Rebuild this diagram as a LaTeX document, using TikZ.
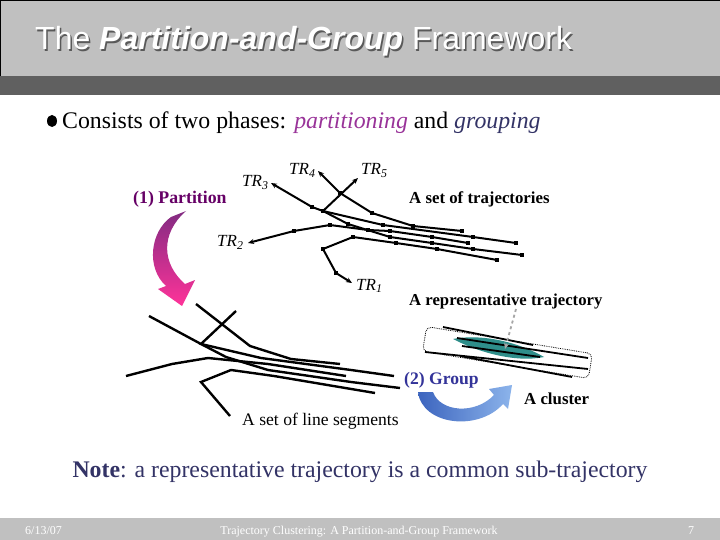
\documentclass[tikz,border=0pt]{standalone}
\usepackage{fontspec}
\setmainfont{Liberation Serif}
\newfontfamily\arialf{Liberation Sans}
\usetikzlibrary{arrows.meta}
\newcommand\fsz[1]{\fontsize{#1}{#1}\selectfont}
\definecolor{bandlight}{HTML}{C0C0C0}
\definecolor{banddark}{HTML}{606060}
\definecolor{purp}{HTML}{993399}
\definecolor{darkpurp}{HTML}{660066}
\definecolor{navy}{HTML}{333366}
\definecolor{grpblue}{HTML}{333399}
\definecolor{tealc}{HTML}{2E8E8A}
\tikzset{
  traj/.style={line width=2pt, line join=round},
  seg/.style={line width=2.4pt, line join=miter},
  tarrow/.style={-{Stealth[length=6pt,width=5pt]}},
  lbl/.style={anchor=base west, inner sep=0pt},
  clline/.style={line width=1.8pt}
}
\newcommand\sq[1]{\fill #1 ++(-2,-2) rectangle ++(4,4);}
\begin{document}
\begin{tikzpicture}[x=1pt,y=-1pt]
\useasboundingbox (0,0) rectangle (720,540);
\fill[white] (0,0) rectangle (720,540);
% header
\fill[bandlight] (0,0) rectangle (720,76);
\draw[line width=1pt] (0.5,76) -- (0.5,0.5) -- (720,0.5);
\fill[banddark] (0,76) rectangle (720,95);
\node[lbl, text=gray!70!black] (titleshadow) at (36.5,51.5) {\arialf\fsz{32}The \textbf{\textit{Partition-and-Group}} Framework};
\node[lbl, text=white] (title) at (35,50) {\arialf\fsz{32}The \textbf{\textit{Partition-and-Group}} Framework};
% bullet
\fill (52,121) ellipse (5 and 6);
\node[lbl] (bullet) at (62,129) {\fsz{23.8}Consists of two phases: \textcolor{purp}{\textit{partitioning}} and \textcolor{navy}{\textit{grouping}}};
% partition label
\node[lbl, text=darkpurp] (part) at (133,204) {\fsz{17.8}\textbf{(1) Partition}};
% pink arrow
\shade[top color=purp!85!black, bottom color={rgb,255:red,255;green,51;blue,153}]
  (186,211) -- (171,217) .. controls (150,232) and (146,268) .. (166,286)
  -- (158,289) -- (182,306) -- (195,280) -- (185,284)
  .. controls (162,264) and (160,234) .. (186,211) -- cycle;
% trajectories
\draw[traj,tarrow] (462,231) -- (413,226) -- (372,213) -- (340,193) -- (318,171);
\draw[traj,tarrow] (516,243) -- (473,237) -- (383,225) -- (323,211) -- (312,207) -- (271,183);
\draw[traj,tarrow] (522,255) -- (473,249) -- (432,243) -- (390,237) -- (348,224) -- (323,211) -- (358,178);
\draw[traj,tarrow] (468,243) -- (432,237) -- (390,231) -- (368,230) -- (330,225) -- (294,231) -- (248,243);
\draw[traj,tarrow] (497,260) -- (437,249) -- (396,243) -- (353,237) -- (323,249) -- (336,273) -- (352,283);
\foreach \p in {(462,231),(413,226),(372,213),(340,193),
  (516,243),(473,237),(383,225),(323,211),(312,207),
  (522,255),(473,249),(432,243),(390,237),(348,224),
  (468,243),(432,237),(390,231),(368,230),(330,225),(294,231),
  (497,260),(437,249),(396,243),(353,237),(323,249),(336,273)} {\sq{\p}}
% TR labels
\node[lbl] (tr3) at (242,187) {\fsz{17}\itshape TR\textsubscript{3}};
\node[lbl] (tr4) at (289,175) {\fsz{17}\itshape TR\textsubscript{4}};
\node[lbl] (tr5) at (361,175) {\fsz{17}\itshape TR\textsubscript{5}};
\node[lbl] (tr2) at (217,247) {\fsz{17}\itshape TR\textsubscript{2}};
\node[lbl] (tr1) at (356,290) {\fsz{17}\itshape TR\textsubscript{1}};
\node[lbl] (setTraj) at (409,204) {\fsz{16.8}\textbf{A set of trajectories}};
% line segments
\begin{scope}[shift={(-122,133)}]
\draw[seg] (462,231) -- (413,226) -- (372,213) -- (318,171);
\draw[seg] (516,243) -- (473,237) -- (383,225) -- (323,211) -- (271,183);
\draw[seg] (522,255) -- (473,249) -- (390,237) -- (348,224) -- (323,211) -- (358,178);
\draw[seg] (468,243) -- (390,231) -- (330,225) -- (294,231) -- (248,243);
\draw[seg] (497,260) -- (396,243) -- (353,237) -- (323,249) -- (352,283);
\end{scope}
\node[lbl] (setSeg) at (242,425) {\fsz{17.6}A set of line segments};
% representative & cluster
\node[lbl] (rep) at (409,305) {\fsz{16.7}\textbf{A representative trajectory}};
\node[draw, densely dotted, line width=0.8pt, rounded corners=5pt, rotate=-9.3,
  minimum width=168pt, minimum height=25pt, inner sep=0pt] (box) at (507.5,352.5) {};
\fill[tealc] (453,339) .. controls (485,333) and (522,344) .. (544,357)
  .. controls (515,363) and (478,352) .. (453,339) -- cycle;
\draw[clline] (443,327) -- (533,345);
\draw[clline] (457,338) -- (588,358);
\draw[clline] (462,346) -- (540,357);
\draw[clline] (425,352) -- (588,369);
\draw[clline] (460,356) -- (572,377);
\coordinate (repEnd) at (505,349);
\draw[gray!70, line width=1.8pt, dashed, -{Stealth[length=6pt,width=5pt]}] (516,309) -- (repEnd);
% group
\node[lbl, text=grpblue] (grp) at (404,384) {\fsz{17.6}\textbf{(2) Group}};
\node[lbl] (clu) at (524,404) {\fsz{16.8}\textbf{A cluster}};
\shade[left color={rgb,255:red,60;green,100;blue,190}, right color={rgb,255:red,140;green,180;blue,235}]
  (418,392) .. controls (422,425) and (478,432) .. (503,404)
  -- (508,409) -- (512,385) -- (489,389) -- (494,395)
  .. controls (475,415) and (440,412) .. (433,392) -- cycle;
% note
\node[anchor=base, inner sep=0pt, text=navy] (note) at (360,477) {\fsz{23.8}\textbf{Note}: a representative trajectory is a common sub-trajectory};
% footer
\fill[bandlight] (0,518) rectangle (720,540);
\node[lbl, text=white] (date) at (25,534) {\fsz{12}6/13/07};
\node[anchor=base, inner sep=0pt, text=white] (foot) at (359,534) {\fsz{12}Trajectory Clustering: A Partition-and-Group Framework};
\node[lbl, text=white] (pg) at (688,534) {\fsz{12}7};
\end{tikzpicture}
\end{document}
